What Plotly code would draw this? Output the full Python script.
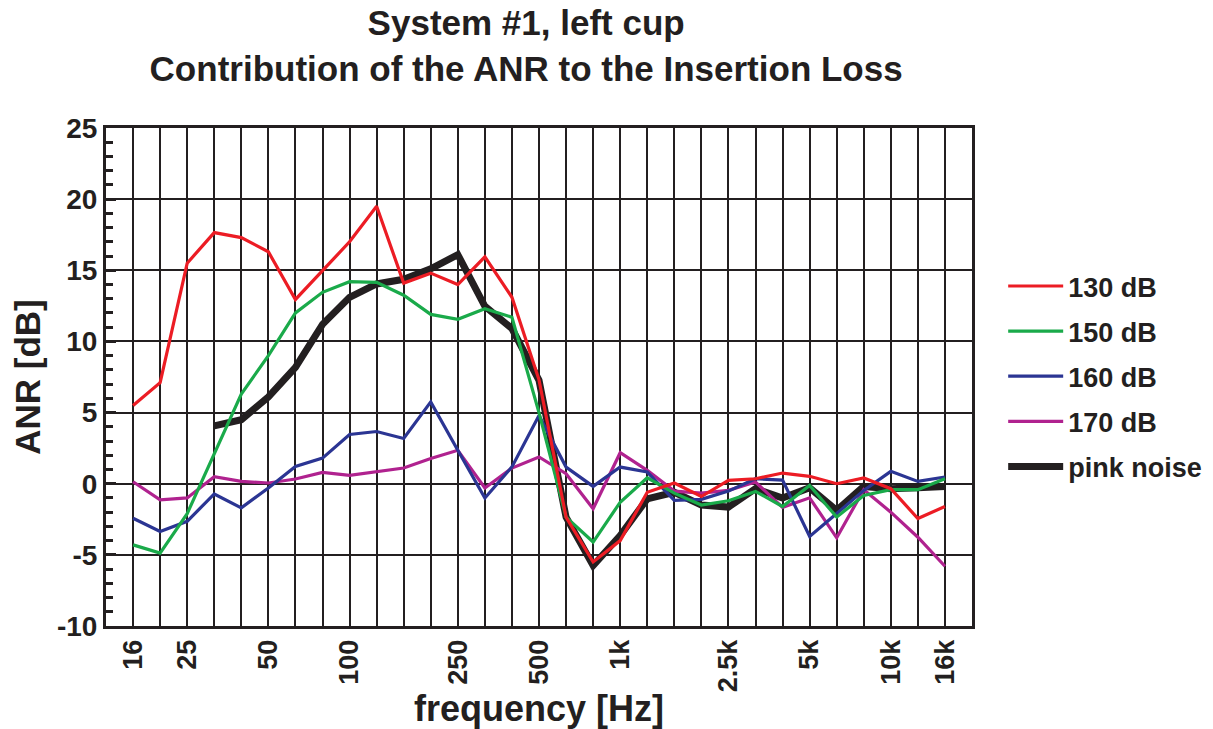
import plotly.graph_objects as go

# third-octave bands, 16 Hz .. 16 kHz (plotted at equal spacing)
bands = ["16", "20", "25", "31.5", "40", "50", "63", "80", "100", "125", "160",
         "200", "250", "315", "400", "500", "630", "800", "1k", "1.25k", "1.6k",
         "2k", "2.5k", "3.15k", "4k", "5k", "6.3k", "8k", "10k", "12.5k", "16k"]
tick_labels = ["16", "25", "50", "100", "250", "500", "1k", "2.5k", "5k", "10k", "16k"]
y_ticks = [-10, -5, 0, 5, 10, 15, 20, 25]

anr_130 = [5.5, 7.1, 15.5, 17.65, 17.3, 16.3, 12.95, 15.0, 17.0, 19.5, 14.1,
           14.8, 14.0, 15.95, 13.1, 7.3, -2.35, -5.5, -4.0, -0.6, 0.05,
           -0.9, 0.23, 0.35, 0.75, 0.52, 0.0, 0.4, -0.35, -2.45, -1.6]
anr_150 = [-4.3, -4.88, -2.1, 2.1, 6.3, 9.0, 12.0, 13.45, 14.2, 14.15, 13.25,
           11.9, 11.56, 12.3, 11.7, 5.0, -2.35, -4.1, -1.3, 0.42, -0.66,
           -1.5, -1.2, -0.54, -1.6, -0.12, -2.35, -0.82, -0.42, -0.42, 0.35]
anr_160 = [-2.43, -3.36, -2.64, -0.72, -1.7, -0.3, 1.21, 1.8, 3.46, 3.67, 3.18,
           5.75, 2.35, -1.0, 1.18, 4.8, 1.17, -0.19, 1.17, 0.82, -1.17,
           -1.1, -0.52, 0.35, 0.25, -3.7, -2.1, -0.47, 0.87, 0.16, 0.47]
anr_170 = [0.14, -1.14, -1.0, 0.49, 0.16, 0.05, 0.33, 0.8, 0.58, 0.86, 1.1,
           1.77, 2.35, -0.3, 1.1, 1.88, 0.7, -1.76, 2.18, 0.94, -0.52,
           -0.66, -0.47, 0.12, -1.66, -0.99, -3.8, -0.42, -2.0, -3.76, -5.8]
# pink noise measured from 31.5 Hz up
anr_pink = [None, None, None, 4.07, 4.5, 6.1, 8.17, 11.2, 13.1, 14.04, 14.37,
            15.1, 16.1, 12.47, 10.9, 7.27, -2.35, -5.75, -3.64, -1.06, -0.6,
            -1.5, -1.64, -0.35, -1.0, -0.28, -1.88, -0.19, -0.35, -0.28, -0.19]

FONT = "Liberation Sans, Arial, sans-serif"
INK = "#231f20"

x = list(range(len(bands)))
tick_pos = [bands.index(t) for t in tick_labels]

fig = go.Figure()
fig.add_trace(go.Scatter(x=x, y=anr_pink, name="pink noise", mode="lines",
                         line=dict(color=INK, width=7), legendgroup="e", legendrank=5))
series = [("170 dB", anr_170, "#b0228f", "d", 4),
          ("160 dB", anr_160, "#2b3593", "c", 3),
          ("150 dB", anr_150, "#1aaa4a", "b", 2),
          ("130 dB", anr_130, "#ec1c24", "a", 1)]
for name, vals, col, grp, rank in series:
    fig.add_trace(go.Scatter(x=x, y=vals, name=name, mode="lines",
                             line=dict(color=col, width=3.2),
                             legendgroup=grp, legendrank=rank))

# page body adds an 8px margin, so the figure is 8px smaller than the window
fig.update_layout(
    width=1205, height=721,
    paper_bgcolor="white", plot_bgcolor="white",
    margin=dict(l=98, r=241, t=120, b=103, autoexpand=False),
    font=dict(family=FONT, color=INK, size=26, weight="bold"),
    title=dict(text="System #1, left cup<br>Contribution of the ANR to the Insertion Loss",
               x=0.43, xanchor="center", yref="container", y=0.962, yanchor="bottom",
               font=dict(size=35, weight="bold", family=FONT, color=INK)),
    legend=dict(x=1.036, xanchor="left", y=0.731, yanchor="top",
                font=dict(size=27, weight="bold", family=FONT, color=INK),
                tracegroupgap=7, itemwidth=55, bgcolor="rgba(0,0,0,0)"),
    showlegend=True,
)

fig.update_xaxes(
    range=[-1, 31], tickmode="array", tickvals=tick_pos, ticktext=tick_labels,
    tickangle=-90, ticks="", showgrid=True, gridcolor=INK, gridwidth=2,
    minor=dict(dtick=1, tick0=0, showgrid=True, gridcolor=INK, gridwidth=2),
    showline=True, linecolor=INK, linewidth=3, mirror=True, zeroline=False,
    tickfont=dict(size=27, weight="bold", family=FONT), automargin=False,
    title=dict(text="frequency [Hz]", standoff=11,
               font=dict(size=36, weight="bold", family=FONT)),
)
fig.update_yaxes(
    range=[-10, 25], tickmode="array", tickvals=y_ticks,
    ticktext=[str(v) for v in y_ticks],
    ticks="inside", ticklen=10, tickwidth=3, tickcolor=INK,
    showgrid=True, gridcolor=INK, gridwidth=2,
    minor=dict(dtick=1, ticks="inside", ticklen=7, tickwidth=3, tickcolor=INK, showgrid=False),
    showline=True, linecolor=INK, linewidth=3, mirror=True, zeroline=False,
    tickfont=dict(size=28, weight="bold", family=FONT), automargin=False,
    title=dict(text="ANR [dB]", standoff=6,
               font=dict(size=35, weight="bold", family=FONT)),
)

fig.write_html("out.html")
